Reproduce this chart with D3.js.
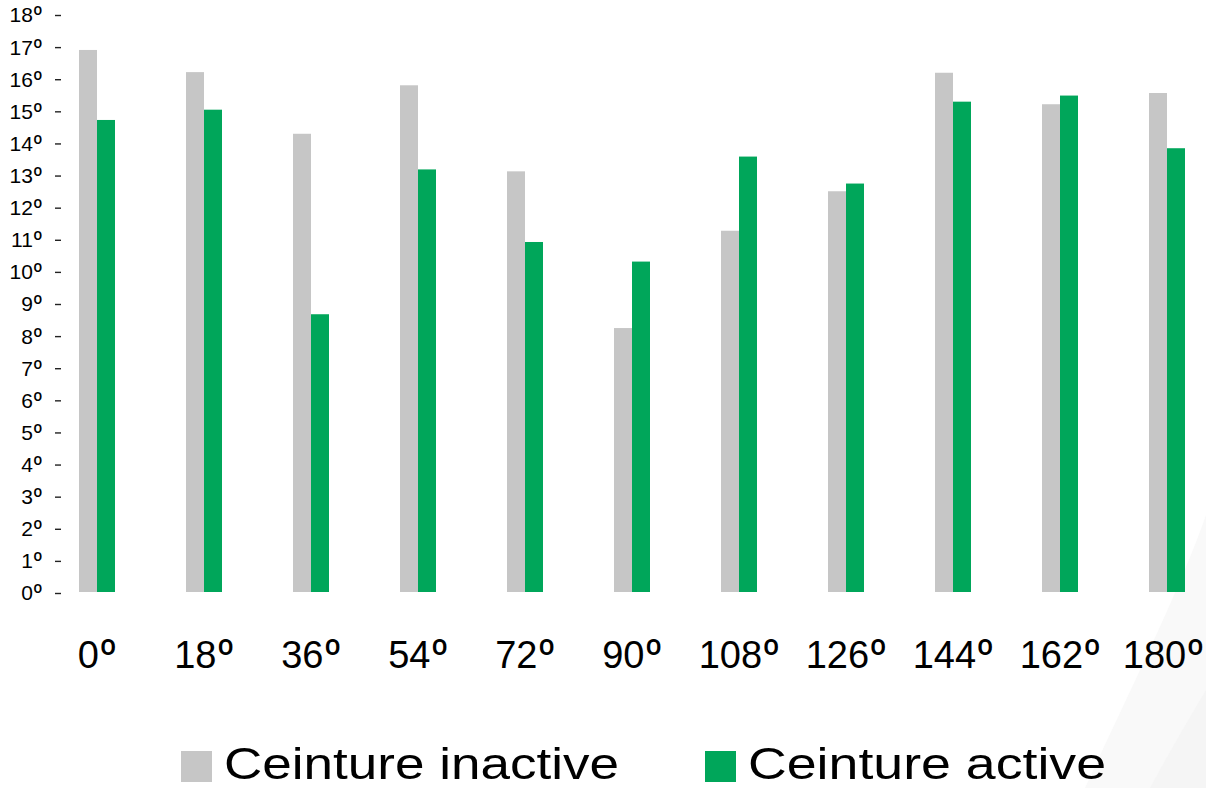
<!DOCTYPE html>
<html>
<head>
<meta charset="utf-8">
<script src="https://cdn.jsdelivr.net/npm/d3@7"></script>
<style>
  html, body { margin: 0; padding: 0; background: #ffffff; }
  svg { display: block; font-family: "Liberation Sans", Arial, Helvetica, sans-serif; }
</style>
</head>
<body>
<svg id="chart" width="1206" height="788"></svg>
<script>
// ---- data ----
const categories = ["0º", "18º", "36º", "54º", "72º", "90º", "108º", "126º", "144º", "162º", "180º"];
const seriesNames = ["Ceinture inactive", "Ceinture active"];
const inactiveValues = [16.88, 16.19, 14.27, 15.78, 13.10, 8.22, 11.25, 12.48, 16.17, 15.19, 15.54];
const activeValues   = [14.70, 15.02,  8.65, 13.16, 10.90, 10.29, 13.56, 12.72, 15.27, 15.46, 13.82];
const yTickValues = [0, 1, 2, 3, 4, 5, 6, 7, 8, 9, 10, 11, 12, 13, 14, 15, 16, 17, 18];
const yTickLabels = ["0º", "1º", "2º", "3º", "4º", "5º", "6º", "7º", "8º", "9º", "10º", "11º", "12º", "13º", "14º", "15º", "16º", "17º", "18º"];
const colors = ["#c6c6c6", "#00a65a"];

const svg = d3.select("#chart");

// faint background decoration (bottom right)
svg.append("path")
  .attr("d", "M1206,515 C1180,590 1130,690 1085,788 L1206,788 Z")
  .attr("fill", "#f9f9f9");
svg.append("path")
  .attr("d", "M1206,690 C1185,725 1165,760 1150,788 L1206,788 Z")
  .attr("fill", "#f5f5f5");

// scales
const x = d3.scalePoint().domain(categories).range([97, 1167]);
const xs = d3.scaleBand().domain(seriesNames).range([-18, 18]);
const y = d3.scaleLinear().domain([0, 18]).range([592, 14]);

// split a label into number + ordinal sign, sign drawn with a font that has no underline
function styleDegree(sel) {
  sel.each(function () {
    const t = d3.select(this);
    const s = t.text();
    const num = s.replace("º", "");
    t.text(null);
    t.append("tspan").text(num);
    t.append("tspan")
      .attr("font-family", "Roboto, 'Open Sans', sans-serif")
      .attr("font-size", "106%")
      .attr("font-weight", 400)
      .text("º");
  });
}

// y axis
const yAxis = d3.axisLeft(y)
  .tickValues(yTickValues)
  .tickFormat((d, i) => yTickLabels[i])
  .tickSize(6)
  .tickPadding(12);
const yg = svg.append("g").attr("transform", "translate(61,1)").call(yAxis);
yg.select(".domain").remove();
yg.selectAll(".tick line").attr("stroke", "#222").attr("stroke-width", 1.4);
yg.selectAll(".tick text")
  .attr("font-size", 21)
  .attr("fill", "#000")
  .attr("font-family", "'Liberation Sans', Arial, sans-serif")
  .attr("dy", "0.33em")
  .call(styleDegree);

// bars
const series = [inactiveValues, activeValues];
series.forEach((vals, si) => {
  svg.append("g").selectAll("rect")
    .data(categories)
    .join("rect")
    .attr("x", d => x(d) + xs(seriesNames[si]))
    .attr("y", (d, i) => y(vals[i]))
    .attr("width", xs.bandwidth())
    .attr("height", (d, i) => y(0) - y(vals[i]))
    .attr("fill", colors[si]);
});

// x labels
const xAxis = d3.axisBottom(x).tickSize(0).tickPadding(0);
const xg = svg.append("g").attr("transform", "translate(0,641)").call(xAxis);
xg.select(".domain").remove();
xg.selectAll(".tick text")
  .attr("font-size", 38)
  .attr("fill", "#000")
  .attr("font-family", "'Liberation Sans', Arial, sans-serif")
  .attr("dy", "0.71em")
  .call(styleDegree);
// keep the last label inside the page
xg.selectAll(".tick text").filter((d, i, n) => i === n.length - 1).attr("text-anchor", "end").attr("x", 1204 - x(categories[categories.length - 1]));

// legend
const legendX = [181, 705];
const legendWidths = [395, 358];
const lg = svg.append("g");
seriesNames.forEach((name, i) => {
  lg.append("rect")
    .attr("x", legendX[i]).attr("y", 751)
    .attr("width", 31).attr("height", 31)
    .attr("fill", colors[i]);
  lg.append("text")
    .attr("x", legendX[i] + 43).attr("y", 779)
    .attr("font-size", 44)
    .attr("textLength", legendWidths[i])
    .attr("lengthAdjust", "spacingAndGlyphs")
    .attr("fill", "#000")
    .text(name);
});
</script>
</body>
</html>
